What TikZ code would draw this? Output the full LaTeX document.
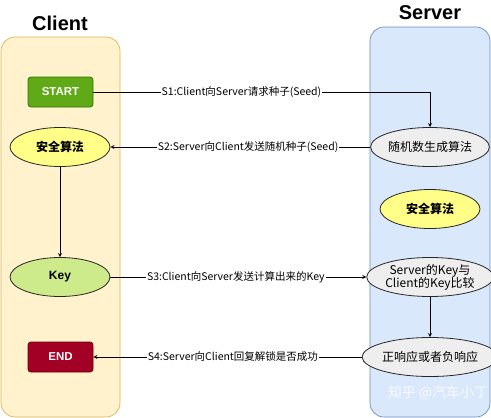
\documentclass[tikz,border=0pt]{standalone}
\usepackage{fontspec}
\usepackage{xcolor}
\setmainfont{Liberation Sans}
\newfontfamily\cjk{Noto Sans CJK SC}
\usetikzlibrary{shapes.geometric}

\definecolor{clientfill}{HTML}{FFF2CC}
\definecolor{clientline}{HTML}{D6B656}
\definecolor{serverfill}{HTML}{DAE8FC}
\definecolor{serverline}{HTML}{6C8EBF}
\definecolor{startfill}{HTML}{60A917}
\definecolor{startline}{HTML}{2D7600}
\definecolor{endfill}{HTML}{A20025}
\definecolor{endline}{HTML}{6F0000}
\definecolor{algofill}{HTML}{FFFF88}
\definecolor{keyfill}{HTML}{CDEB8B}
\definecolor{grayfill}{HTML}{EEEEEE}

\begin{document}
\begin{tikzpicture}[x=1pt,y=-1pt,>=stealth,line width=0.8pt,
    lane/.style={draw,rounded corners=14pt,line width=0.7pt},
    oval/.style={ellipse,draw=black!85,minimum width=100pt,minimum height=39pt,inner sep=0pt,align=center,font=\cjk\fontsize{12}{14}\selectfont},
    box/.style={draw,rounded corners=3pt,minimum width=65pt,minimum height=30pt,text=white,font=\bfseries\fontsize{11.5}{13}\selectfont},
    msg/.style={fill=white,inner sep=1pt,font=\cjk\fontsize{10.5}{12}\selectfont}]
        \useasboundingbox (0,0) rectangle (491,418);
        % lanes
        \draw[lane,draw=clientline,fill=clientfill] (1,37) rectangle (120,417);
        \draw[lane,draw=serverline,fill=serverfill] (370,27) rectangle (490,417);
        \node[font=\bfseries\fontsize{20}{24}\selectfont] (client) at (60,23) {Client};
        \node[font=\bfseries\fontsize{20}{24}\selectfont] (server) at (430,13) {Server};
        % client side
        \node[box,draw=startline,fill=startfill] (start) at (60.5,92) {START};
        \node[oval,fill=algofill] (calgo) at (60,147) {\bfseries 安全算法};
        \node[oval,fill=keyfill,font=\bfseries\fontsize{12}{14}\selectfont] (key) at (60,277) {Key};
        \node[box,draw=endline,fill=endfill] (end) at (60.5,357) {END};
        % server side
        \node[oval,fill=grayfill] (rand) at (430,147) {随机数生成算法};
        \node[oval,fill=algofill] (salgo) at (430,209) {\bfseries 安全算法};
        \node[oval,fill=grayfill,font=\cjk\fontsize{12}{13}\selectfont] (cmp) at (430,277) {Server的Key与\\Client的Key比较};
        \node[oval,fill=grayfill] (resp) at (430,357) {正响应或者负响应};
        % messages
        \draw[->] (start.east) -| (rand.north) node[msg,pos=0.22]{S1:Client向Server请求种子(Seed)};
        \draw[->] (rand.west) -- (calgo.east) node[msg,pos=0.47]{S2:Server向Client发送随机种子(Seed)};
        \draw[->] (calgo.south) -- (key.north);
        \draw[->] (key.east) -- (cmp.west) node[msg,pos=0.49]{S3:Client向Server发送计算出来的Key};
        \draw[->] (cmp.south) -- (resp.north);
        \draw[->] (resp.west) -- (end.east) node[msg,pos=0.48]{S4:Server向Client回复解锁是否成功};
        % watermark
        \node[text=white,opacity=0.8,font=\cjk\fontsize{14}{16}\selectfont] (mark) at (438,393) {知乎 @汽车小丁};
\end{tikzpicture}
\end{document}
